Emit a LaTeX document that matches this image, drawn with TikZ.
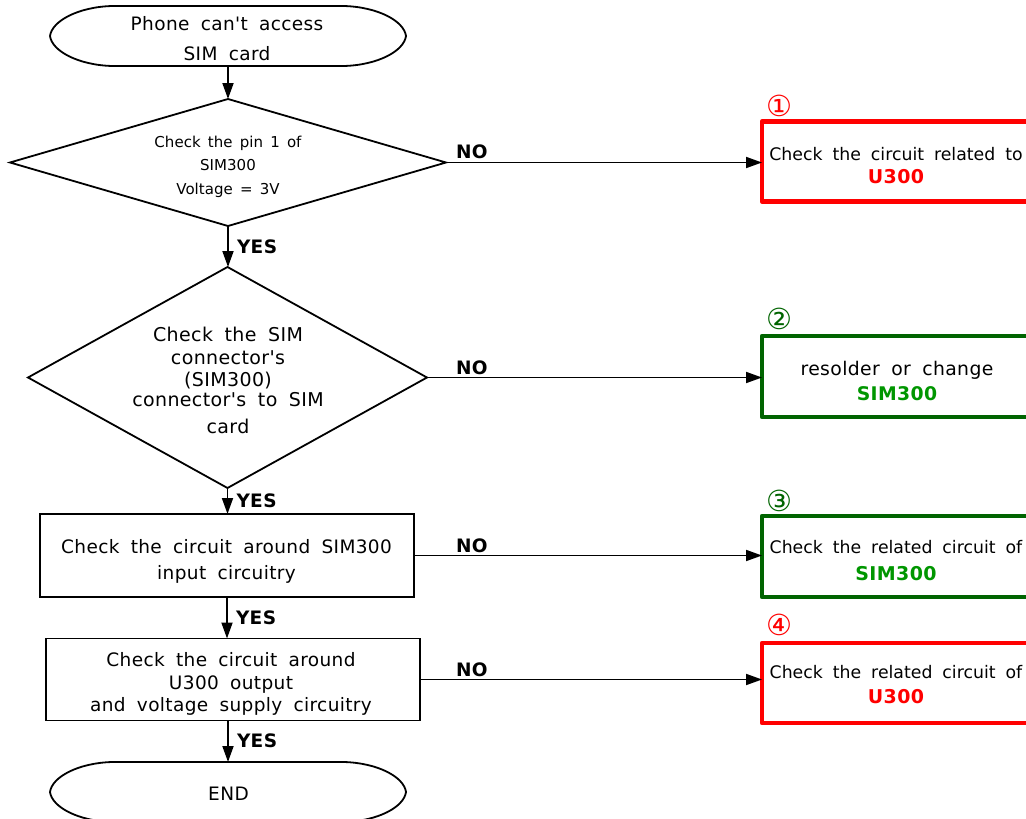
\documentclass[tikz,border=0pt]{standalone}
\usepackage{fontspec}
\newfontfamily\vf[LetterSpace=2,WordSpace=1.8]{DejaVu Sans}
\newfontfamily\vfn[LetterSpace=0.1,WordSpace=1.8]{DejaVu Sans}
\newfontfamily\vfs[LetterSpace=0.2,WordSpace=1.5]{DejaVu Sans}
\newfontfamily\cf{DejaVu Sans}
\usetikzlibrary{arrows.meta,shapes.geometric}
\definecolor{myred}{RGB}{255,0,0}
\definecolor{dkgreen}{RGB}{0,100,0}
\definecolor{ltgreen}{RGB}{0,150,0}
\tikzset{
  every node/.style={inner sep=0pt, outer sep=0pt},
  shapeline/.style={draw=black, line width=1.8pt},
  conn/.style={line width=1.8pt, -{Triangle[length=16pt,width=11pt]}},
  txt/.style={align=center, font=\vf\fontsize{18.5}{#1}\selectfont},
  rtxt/.style={align=center, font=\vfn\fontsize{17.3}{#1}\selectfont},
  lbl/.style={anchor=west, font=\vf\fontsize{18.5}{18.5}\selectfont\bfseries},
  circnum/.style={font=\cf\fontsize{29}{29}\selectfont},
  termbox/.style={rectangle, minimum width=356pt, minimum height=60pt},
  procbox/.style={shapeline, rectangle, minimum width=374pt, minimum height=#1},
  rbox/.style={draw=#1, line width=4.5pt, line join=round, rectangle, minimum width=288pt, minimum height=80pt},
}
\newcommand{\termoutline}[1]{%
  \draw[shapeline, shift={(#1.center)}]
    (-116,-30) -- (116,-30) .. controls (150,-29) and (176,-15) .. (178,0)
    .. controls (176,15) and (150,29) .. (116,30) -- (-116,30)
    .. controls (-150,29) and (-176,15) .. (-178,0)
    .. controls (-176,-15) and (-150,-29) .. (-116,-30) -- cycle;}
\begin{document}
\begin{tikzpicture}[x=1pt,y=-1pt]
\useasboundingbox (0,0) rectangle (1026,819);
\clip (0,0) rectangle (1026,819);

% start terminal
\node[termbox] (start) at (228,36) {};
\termoutline{start}
\node[txt=30] (startt) at (227,39) {Phone can't access\\SIM card};

% decision 1
\node[diamond, shapeline, minimum width=436pt, minimum height=127pt] (d1) at (228,162.5) {};
\node[align=center, font=\vfs\fontsize{15}{23.5}\selectfont] (d1t) at (228,166.5) {Check the pin 1 of\\SIM300\\Voltage = 3V};

% decision 2
\node[diamond, shapeline, minimum width=399pt, minimum height=221pt] (d2) at (227.5,377.5) {};
\node[align=center, font=\vf\fontsize{19}{23}\selectfont] (d2t) at (228,380) {Check the SIM\\connector's\\[-1pt](SIM300)\\[-3pt]connector's to SIM\\[4pt]card};

% process boxes
\node[procbox=83pt] (p1) at (227,555.5) {};
\node[txt=26] (p1t) at (226.5,561) {Check the circuit around SIM300\\input circuitry};
\node[procbox=82pt] (p2) at (233,679.5) {};
\node[txt=22.5] (p2t) at (231,684) {Check the circuit around\\U300 output\\and voltage supply circuitry};

% end terminal
\node[termbox] (end) at (228,792) {};
\termoutline{end}
\node[txt=18] (endt) at (228.5,794) {END};

% right boxes
\node[rbox=myred] (r1) at (906,161.5) {};
\node[rtxt=23] (r1t) at (896,165.7) {Check the circuit related to\\\textbf{\vf\fontsize{19}{23}\selectfont\color{myred}U300}};
\node[rbox=dkgreen, minimum height=81pt] (r2) at (906,376.5) {};
\node[align=center, font=\vf\fontsize{18.8}{25}\selectfont] (r2t) at (897,381) {resolder or change\\\textbf{\color{ltgreen}SIM300}};
\node[rbox=dkgreen, minimum height=81pt] (r3) at (906,556.5) {};
\node[rtxt=27] (r3t) at (896,560.7) {Check the related circuit of\\\textbf{\vf\fontsize{19}{27}\selectfont\color{ltgreen}SIM300}};
\node[rbox=myred] (r4) at (906,683) {};
\node[rtxt=25] (r4t) at (896,684.7) {Check the related circuit of\\\textbf{\vf\fontsize{19}{25}\selectfont\color{myred}U300}};

% circled numbers
\node[circnum, text=myred] (n1) at (779,106) {①};
\node[circnum, text=dkgreen] (n2) at (779,319) {②};
\node[circnum, text=dkgreen] (n3) at (779,501) {③};
\node[circnum, text=myred] (n4) at (779,625) {④};

% vertical connectors
\draw[conn] (start.south) -- (d1.north);
\draw[conn] (d1.south) -- (d1.south |- d2.north) node[lbl, midway, xshift=9pt] {YES};
\draw[conn] (d2.south) -- (d2.south |- p1.north) node[lbl, midway, xshift=9pt] {YES};
\draw[conn] (p1.south) -- (p1.south |- p2.north) node[lbl, midway, xshift=9pt] {YES};
\draw[conn] (end.north |- p2.south) -- (end.north) node[lbl, midway, xshift=9pt] {YES};

% horizontal connectors
\draw[conn] (d1.east) -- (d1.east -| r1.west);
\draw[conn] (d2.east) -- (d2.east -| r2.west);
\draw[conn] (p1.east) -- (p1.east -| r3.west);
\draw[conn] (p2.east) -- (p2.east -| r4.west);
\node[lbl] (no1) at (456,152) {NO};
\node[lbl] (no2) at (456,368) {NO};
\node[lbl] (no3) at (456,546) {NO};
\node[lbl] (no4) at (456,670) {NO};
\end{tikzpicture}
\end{document}
